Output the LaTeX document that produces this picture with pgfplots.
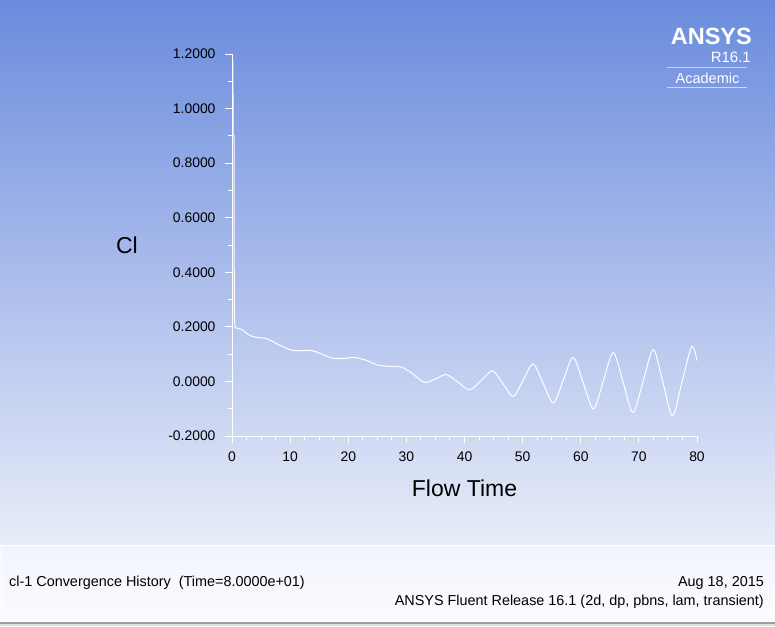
\documentclass[border=0pt]{standalone}
\usepackage{pgfplots}
\pgfplotsset{compat=1.18}
\usepackage{fontspec}
\setmainfont{Liberation Sans}
\definecolor{bgtop}{RGB}{106,139,221}
\definecolor{bgbot}{RGB}{233,237,249}
\definecolor{pantop}{RGB}{241,244,252}
\definecolor{panbot}{RGB}{251,252,255}
\begin{document}
\begin{tikzpicture}[x=1pt,y=1pt]
\useasboundingbox (0,0) rectangle (775,-626);
\shade[top color=bgtop, bottom color=bgbot] (0,0) rectangle (775,-545);
\shade[top color=pantop, bottom color=panbot] (0,-545) rectangle (775,-622);
\draw[white, line width=1pt] (1.5,-622) -- (1.5,-545.5) -- (775,-545.5);
\fill[gray!75] (0,-622) rectangle (775,-624);
\fill[gray!25] (0,-624) rectangle (775,-626);
% logo
\node[anchor=base east, text=white, font=\fontsize{23.5}{26}\selectfont\bfseries, inner sep=0pt] at (752,-45) {ANSYS};
\node[anchor=base east, text=white, font=\fontsize{15}{17}\selectfont, inner sep=0pt] at (751,-62) {R16.1};
\draw[white, opacity=0.6, line width=1pt] (667,-67.5) -- (747,-67.5);
\node[anchor=base, text=white, font=\fontsize{14.5}{16}\selectfont, inner sep=0pt] at (707.5,-83) {Academic};
\draw[white, opacity=0.6, line width=1pt] (667,-87.5) -- (747,-87.5);
% footer
\node[anchor=base west, inner sep=0pt, font=\fontsize{14.4}{16}\selectfont] at (9,-586) {cl-1 Convergence History\ \ (Time=8.0000e+01)};
\node[anchor=base east, inner sep=0pt, font=\fontsize{14.4}{16}\selectfont] at (764,-586) {Aug 18, 2015};
\node[anchor=base east, inner sep=0pt, font=\fontsize{14.4}{16}\selectfont] at (764,-605) {ANSYS Fluent Release 16.1 (2d, dp, pbns, lam, transient)};
\begin{axis}[
  at={(232pt,-436pt)}, anchor=south west,
  scale only axis, width=465pt, height=382pt,
  xmin=0, xmax=80, ymin=-0.2, ymax=1.2,
  axis x line=bottom, axis y line=left,
  axis line style={white, line width=1pt, -},
  every tick/.style={white, line width=1pt},
  tick align=outside,
  major tick length=7pt, minor tick length=4pt,
  xtick={0,10,20,30,40,50,60,70,80},
  xticklabels={0,10,20,30,40,50,60,70,80},
  minor x tick num=3,
  ytick={-0.2,0,0.2,0.4,0.6,0.8,1.0,1.2},
  yticklabels={-0.2000,0.0000,0.2000,0.4000,0.6000,0.8000,1.0000,1.2000},
  minor y tick num=1,
  tick label style={font=\fontsize{13.9}{16}\selectfont, text=black},
  xticklabel shift=5pt,
  yticklabel shift=6pt,
  xlabel={Flow Time}, ylabel={Cl},
  label style={font=\fontsize{23}{26}\selectfont, text=black},
  xlabel style={at={(axis description cs:0.5,-0.136)}, anchor=center},
  ylabel style={rotate=-90, at={(axis description cs:-0.226,0.5)}, anchor=center},
]
\addplot[white, line width=1pt, sharp plot] coordinates {
(0,1.19) (0.15,1.17) (0.2,0.90) (0.35,0.90) (0.4,0.23) (0.55,0.197)
};
\addplot[white, line width=1pt, smooth] coordinates {
(0.55,0.197) (1.7,0.19) (2.8,0.172) (4.0,0.162) (5.1,0.160) (6.3,0.154)
(8.0,0.135) (10.3,0.114) (12.0,0.113) (13.7,0.113) (15.4,0.101) (17.1,0.086)
(19.2,0.084) (20.5,0.087) (21.7,0.086) (23.5,0.074) (25.2,0.059) (27.5,0.055)
(29.2,0.052) (30.9,0.031) (32.6,0.002) (33.4,-0.004) (35.1,0.010) (36.9,0.025)
(38.9,-0.003) (40.9,-0.031) (42.9,0.004) (44.85,0.039) (46.6,-0.008) (48.4,-0.055)
(50.1,0.005) (51.8,0.064) (53.55,-0.008) (55.3,-0.079) (57.0,0.005) (58.7,0.088)
(60.45,-0.007) (62.2,-0.101) (63.9,0.003) (65.6,0.106) (67.3,-0.004) (69.0,-0.114)
(70.75,0.002) (72.5,0.117) (74.15,-0.005) (75.8,-0.126) (77.45,0.001) (79.1,0.128)
(80.0,0.076)
};
\end{axis}
\end{tikzpicture}
\end{document}
